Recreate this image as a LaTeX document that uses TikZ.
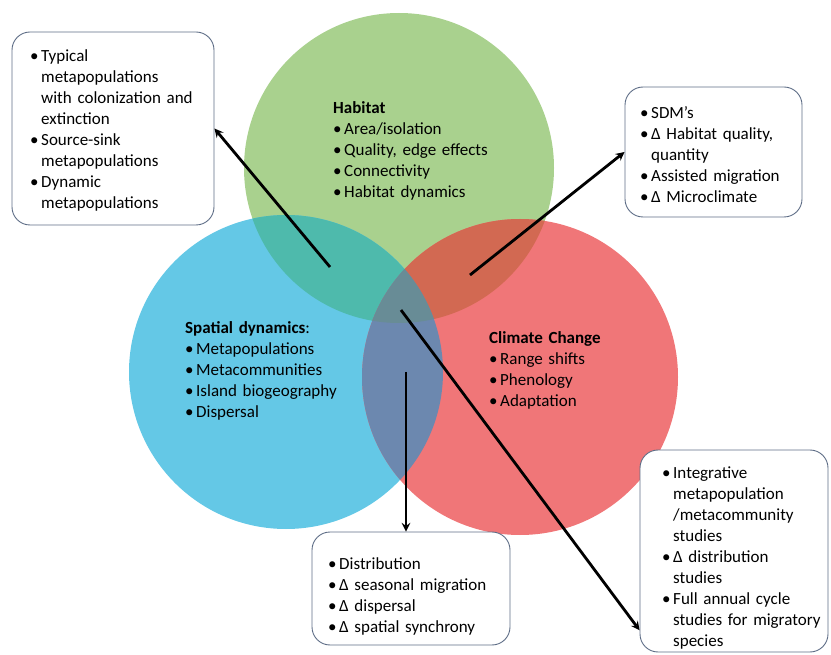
\documentclass[tikz,border=0pt]{standalone}
\usepackage{fontspec}
\setmainfont{Carlito}
\usetikzlibrary{shapes,arrows,calc}
\definecolor{habgreen}{RGB}{169,209,142}
\definecolor{spatblue}{RGB}{100,200,230}
\definecolor{climred}{RGB}{240,118,120}
\definecolor{tealmix}{RGB}{78,186,172}
\definecolor{rustmix}{RGB}{210,105,82}
\definecolor{slatemix}{RGB}{108,136,175}
\definecolor{coremix}{RGB}{104,140,150}
\definecolor{notegray}{RGB}{95,110,135}
\newcommand{\itm}[1]{\par\hangindent=11pt\hangafter=1\noindent\strut\makebox[11pt][l]{\textbullet}#1\par}
\tikzstyle{set} = [circle, inner sep=0pt, draw=none]
\tikzstyle{note} = [rectangle, draw=notegray, line width=0.9pt, rounded corners=18pt, fill=white, inner sep=0pt]
\tikzstyle{lst} = [anchor=north west, align=left, text width=200pt, inner sep=0pt,
font=\fontsize{17}{21}\selectfont]
\tikzstyle{arrow} = [line width=2.8pt,->,>=stealth]

\begin{document}
\begin{tikzpicture}[x=1pt,y=-1pt]
                        \useasboundingbox (0,0) rectangle (831,655);
                        % the three sets
                        \node[set, fill=habgreen, minimum size=310pt] (hab) at (399,168) {};
                        \node[set, fill=spatblue, minimum size=314pt] (spat) at (286,372) {};
                        \node[set, fill=climred, minimum size=316pt] (clim) at (520,377) {};
                        \begin{scope}
                            \clip (hab.center) circle[radius=155pt];
                            \fill[tealmix] (spat.center) circle[radius=157pt];
                        \end{scope}
                        \begin{scope}
                            \clip (hab.center) circle[radius=155pt];
                            \fill[rustmix] (clim.center) circle[radius=158pt];
                        \end{scope}
                        \begin{scope}
                            \clip (spat.center) circle[radius=157pt];
                            \fill[slatemix] (clim.center) circle[radius=158pt];
                        \end{scope}
                        \begin{scope}
                            \clip (hab.center) circle[radius=155pt];
                            \clip (spat.center) circle[radius=157pt];
                            \fill[coremix] (clim.center) circle[radius=158pt];
                        \end{scope}
                        \node[lst] (habtxt) at (333,99) {\strut\textbf{Habitat}
                            \itm{Area/isolation}\itm{Quality, edge effects}\itm{Connectivity}\itm{Habitat dynamics}};
                        \node[lst] (spattxt) at (185,319) {\strut\textbf{Spatial dynamics}:
                            \itm{Metapopulations}\itm{Metacommunities}\itm{Island biogeography}\itm{Dispersal}};
                        \node[lst] (climtxt) at (489,329) {\strut\textbf{Climate Change}
                            \itm{Range shifts}\itm{Phenology}\itm{Adaptation}};
                        % the notes
                        \node[note, minimum width=202pt, minimum height=193pt] (meta) at (113,128.5) {};
                        \node[note, minimum width=177pt, minimum height=130pt] (sdm) at (713.5,152) {};
                        \node[note, minimum width=198pt, minimum height=113pt] (dist) at (411,588.5) {};
                        \node[note, minimum width=188pt, minimum height=202pt] (integ) at (734,551) {};
                        \node[lst] (metatxt) at (30,40) {\itm{Typical\newline metapopulations\newline with colonization and\newline extinction}
                            \itm{Source-sink\newline metapopulations}\itm{Dynamic\newline metapopulations}};
                        \node[lst] (sdmtxt) at (640,97) {\itm{SDM’s}\itm{Δ Habitat quality,\newline quantity}
                            \itm{Assisted migration}\itm{Δ Microclimate}};
                        \node[lst] (disttxt) at (328,548) {\itm{Distribution}\itm{Δ seasonal migration}
                            \itm{Δ dispersal}\itm{Δ spatial synchrony}};
                        \node[lst] (integtxt) at (662,457) {\itm{Integrative\newline metapopulation\newline /metacommunity\newline studies}
                            \itm{Δ distribution\newline studies}\itm{Full annual cycle\newline studies for migratory\newline species}};
                        % arrows
                        \coordinate (hs) at (330,267);
                        \coordinate (hc) at (470,275);
                        \coordinate (sc) at (406,372);
                        \coordinate (all) at (401,310);
                        \draw[arrow] (hs) -- (meta.east);
                        \draw[arrow] (hc) -- (sdm.west);
                        \draw[arrow] (sc) -- (sc |- dist.north);
                        \draw[arrow] (all) -- (integ.220);
                    \end{tikzpicture}
\end{document}
